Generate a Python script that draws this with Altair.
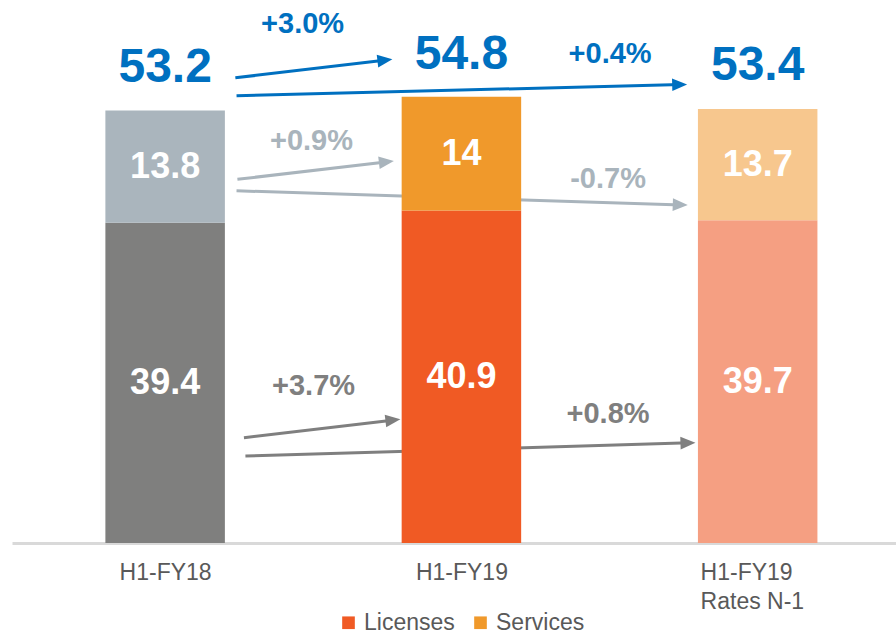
import math
import altair as alt
import pandas as pd

# ---------------- data ----------------
categories = ["H1-FY18", "H1-FY19", "H1-FY19\nRates N-1"]
licenses = [39.4, 40.9, 39.7]
services = [13.8, 14.0, 13.7]
totals = [53.2, 54.8, 53.4]

# arrows between bars (data units: x = category index, y = revenue)
arrow_group = ["total", "total", "services", "services", "licenses", "licenses"]
arrow_x0 = [0.237, 0.241, 0.244, 0.241, 0.266, 0.271]
arrow_y0 = [57.23, 55.02, 44.74, 43.33, 12.95, 10.70]
arrow_x1 = [0.767, 1.762, 0.772, 1.764, 0.794, 1.790]
arrow_y1 = [59.50, 56.42, 46.99, 41.57, 15.22, 12.34]

change_labels = ["+3.0%", "+0.4%", "+0.9%", "-0.7%", "+3.7%", "+0.8%"]
change_x = [0.464, 1.502, 0.494, 1.495, 0.501, 1.495]
change_y = [62.73, 59.08, 48.34, 43.67, 18.20, 14.76]

# ---------------- styling ----------------
FONT = "Liberation Sans, Arial, sans-serif"
W, H = 884, 543
XDOM = [-0.5, 2.45]
YDOM = [0, 66.8]
PX_X = W / (XDOM[1] - XDOM[0])
PX_Y = H / (YDOM[1] - YDOM[0])
BAR_W = 119.5

seg_keys, seg_colors = [], []
palette = {
    0: ("#7f7f7e", "#aab5bd"),
    1: ("#f05a24", "#f0992b"),
    2: ("#f59f82", "#f7c78e"),
}
for i in range(len(categories)):
    seg_keys += [f"{i}|Licenses", f"{i}|Services"]
    seg_colors += list(palette[i])

group_domain = ["total", "services", "licenses"]
group_colors = ["#0070c0", "#a9b4bc", "#7f7f7f"]

# ---------------- tables ----------------
bar_rows = []
for i, c in enumerate(categories):
    bar_rows.append(dict(pos=i, type="Licenses", key=f"{i}|Licenses",
                         y0=0, y1=licenses[i], mid=licenses[i] / 2,
                         label=f"{licenses[i]:g}"))
    bar_rows.append(dict(pos=i, type="Services", key=f"{i}|Services",
                         y0=licenses[i], y1=licenses[i] + services[i],
                         mid=licenses[i] + services[i] / 2,
                         label=f"{services[i]:g}"))
bars_df = pd.DataFrame(bar_rows)

tot_df = pd.DataFrame(dict(pos=list(range(len(categories))), total=totals,
                           label=[f"{t:g}" for t in totals]))

arr_rows = []
for g, x0, y0, x1, y1 in zip(arrow_group, arrow_x0, arrow_y0, arrow_x1, arrow_y1):
    dxp = (x1 - x0) * PX_X
    dyp = -(y1 - y0) * PX_Y
    ln = math.hypot(dxp, dyp)
    ux, uy = dxp / ln, dyp / ln
    ang = math.degrees(math.atan2(dyp, dxp)) % 360
    arr_rows.append(dict(group=g, x0=x0, y0=y0, x1=x1, y1=y1,
                         xe=x1 - 6 * ux / PX_X, ye=y1 + 6 * uy / PX_Y,
                         angle=ang))
arr_df = pd.DataFrame(arr_rows)

chg_df = pd.DataFrame(dict(group=arrow_group, x=change_x, y=change_y,
                           label=change_labels))

# ---------------- encodings ----------------
label_lines = [c.split("\n") for c in categories]
label_expr = (
    f"datum.value < 0.5 ? {label_lines[0]} : "
    f"datum.value < 1.5 ? {label_lines[1]} : {label_lines[2]}"
)
half_bar = BAR_W / 2 / PX_X
xaxis = alt.Axis(
    values=[0, 1, 2 - half_bar + 0.005],
    labelExpr=label_expr,
    labelAlign={"condition": {"test": "datum.value > 1.5", "value": "left"},
                "value": "center"},
    labelFont=FONT, labelFontSize=23, labelColor="#595959",
    labelLineHeight=29, labelPadding=18,
    ticks=False, grid=False, title=None,
    domainColor="#d9d9d9", domainWidth=3,
)
xscale = alt.Scale(domain=XDOM, nice=False, zero=False)
yscale = alt.Scale(domain=YDOM, nice=False, zero=False)


def X(f):
    return alt.X(f"{f}:Q", scale=xscale, axis=xaxis)


def Y(f):
    return alt.Y(f"{f}:Q", scale=yscale, axis=None)


gcolor = alt.Color("group:N", scale=alt.Scale(domain=group_domain, range=group_colors),
                   legend=None)

arrow_lines = alt.Chart(arr_df).mark_rule(strokeWidth=3).encode(
    x=X("x0"), y=Y("y0"), x2="xe:Q", y2="ye:Q", color=gcolor
)
arrow_heads = alt.Chart(arr_df).mark_point(
    shape="M0,0L-2,-0.85L-2,0.85Z", size=225, filled=True, opacity=1, strokeWidth=0
).encode(
    x=X("x1"), y=Y("y1"), angle=alt.Angle("angle:Q", scale=None), color=gcolor
)

bars = alt.Chart(bars_df).mark_bar(size=BAR_W).encode(
    x=X("pos"), y=Y("y0"), y2="y1:Q",
    fill=alt.Fill(
        "key:N",
        scale=alt.Scale(domain=seg_keys, range=seg_colors),
        legend=alt.Legend(
            values=["1|Licenses", "1|Services"],
            labelExpr="split(datum.label, '|')[1]",
            orient="none", legendX=325, legendY=611, direction="horizontal",
            title=None, symbolType="square", symbolSize=160, symbolStrokeWidth=0,
            labelFont=FONT, labelFontSize=23, labelColor="#595959",
            labelOffset=4, columnPadding=14, padding=0,
        ),
    ),
)
bar_text = alt.Chart(bars_df).mark_text(
    font=FONT, fontSize=36, fontWeight="bold", color="white", baseline="middle"
).encode(x=X("pos"), y=Y("mid"), text="label:N")

tot_text = alt.Chart(tot_df).mark_text(
    font=FONT, fontSize=48, fontWeight="bold", color="#0070c0",
    baseline="alphabetic", dy=-29
).encode(x=X("pos"), y=Y("total"), text="label:N")

chg_text = alt.Chart(chg_df).mark_text(
    font=FONT, fontSize=29, fontWeight="bold", baseline="alphabetic"
).encode(x=X("x"), y=Y("y"), text="label:N", color=gcolor)

chart = alt.layer(
    arrow_lines, arrow_heads, bars, bar_text, tot_text, chg_text
).properties(
    width=W, height=H, background="white",
    padding={"left": 12, "top": 0, "right": 0, "bottom": 0}
).configure_view(stroke=None, strokeWidth=0)

chart.save("out.html", embed_options={"renderer": "svg", "actions": False})
